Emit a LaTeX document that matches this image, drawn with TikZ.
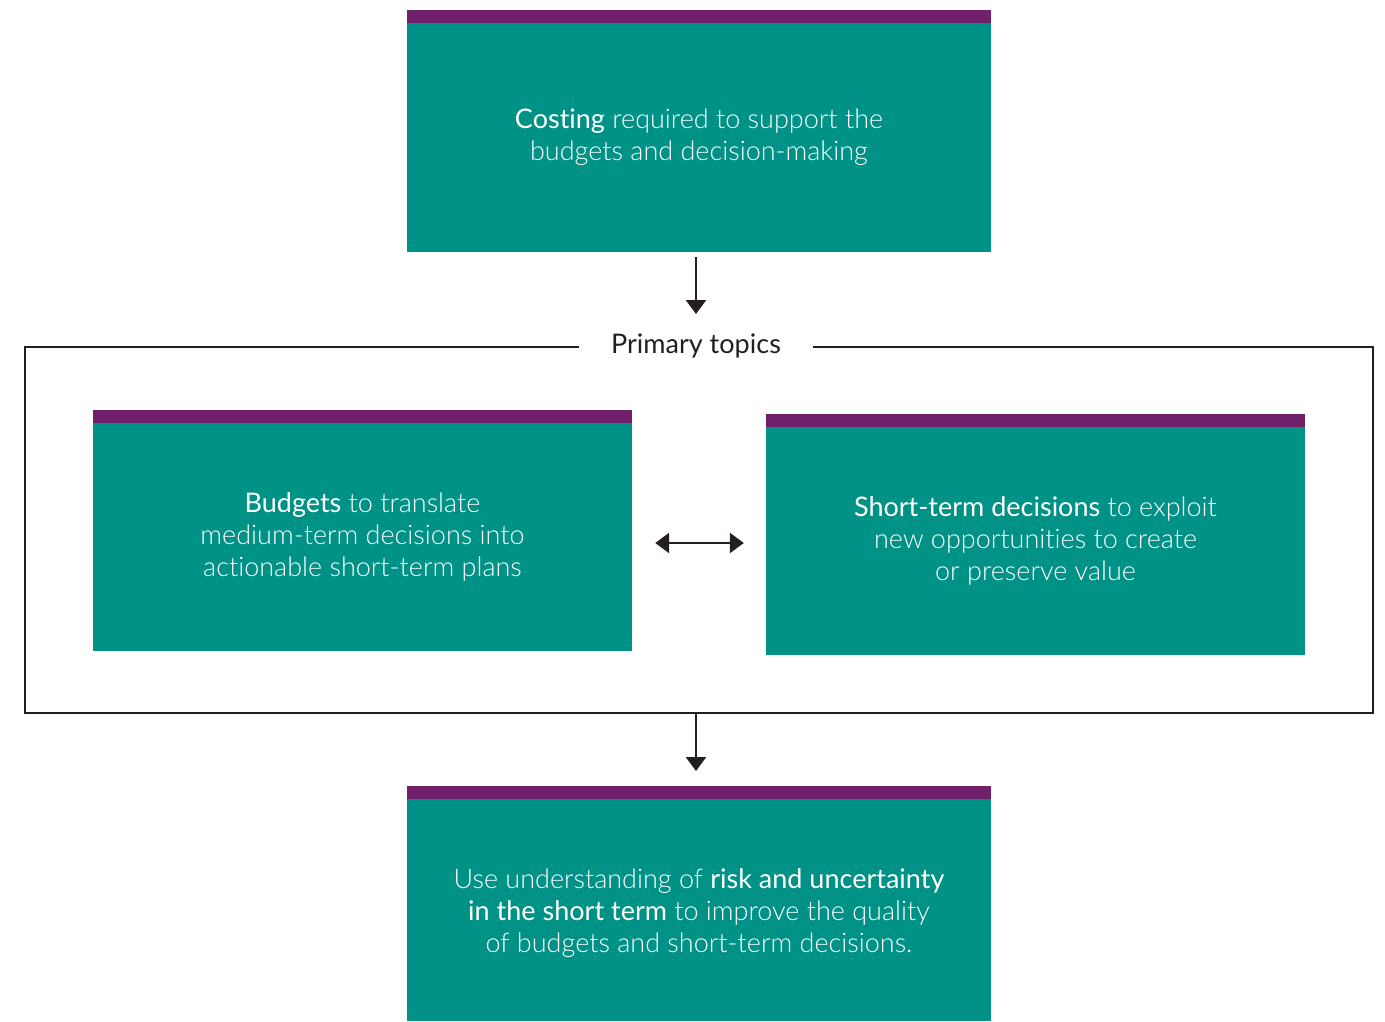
\documentclass[tikz,border=0pt]{standalone}
\usepackage{fontspec}
\setmainfont{Lato}[UprightFont=* Light, BoldFont=* Regular, Ligatures=NoCommon]
\usetikzlibrary{arrows.meta}
\definecolor{tealbox}{RGB}{0,146,134}
\definecolor{purplebar}{RGB}{112,32,106}
\definecolor{linegray}{RGB}{35,31,32}
\tikzset{
  boxbody/.style={fill=tealbox, draw=none, text=white, align=center, font=\fontsize{27}{32}\selectfont, inner sep=0pt},
  topbar/.style={fill=purplebar, draw=none, inner sep=0pt, minimum height=13pt},
  conn/.style={draw=linegray, line width=2.4pt, -{Triangle[width=20pt,length=14pt]}},
  dconn/.style={draw=linegray, line width=2.4pt, {Triangle[width=20pt,length=14pt]}-{Triangle[width=20pt,length=14pt]}},
  framel/.style={draw=linegray, line width=2.5pt},
}
\begin{document}
\begin{tikzpicture}[x=1pt,y=-1pt]
\useasboundingbox (0,0) rectangle (1385,1021);
% top box
\node[boxbody, minimum width=584pt, minimum height=229pt] (top) at (699,137.5) {\textbf{Costing} required to support the\\budgets and decision-making};
\node[topbar, minimum width=584pt, anchor=south] (topbar) at (top.north) {};
% frame
\node[font=\fontsize{27}{30}\selectfont, text=linegray, inner sep=0pt] (lbl) at (696,346) {\fontspec{Lato}[Ligatures=NoCommon]Primary topics};
\coordinate (fl) at (579,347);
\coordinate (fr) at (813,347);
\coordinate (ftl) at (25,347);
\coordinate (fbl) at (25,713);
\coordinate (fbr) at (1373,713);
\coordinate (ftr) at (1373,347);
\coordinate (fb) at (696,713);
\draw[framel] (fl) -- (ftl) -- (fbl) -- (fbr) -- (ftr) -- (fr);
% left box
\node[boxbody, minimum width=539pt, minimum height=228pt] (left) at (362.5,537) {\textbf{Budgets} to translate\\medium-term decisions into\\actionable short-term plans};
\node[topbar, minimum width=539pt, anchor=south] (leftbar) at (left.north) {};
% right box
\node[boxbody, minimum width=539pt, minimum height=228pt] (right) at (1035.5,541) {\textbf{Short-term decisions} to exploit\\new opportunities to create\\or preserve value};
\node[topbar, minimum width=539pt, anchor=south] (rightbar) at (right.north) {};
% bottom box
\node[boxbody, minimum width=584pt, minimum height=222pt] (bot) at (699,910) {};
\node[topbar, minimum width=584pt, anchor=south] (botbar) at (bot.north) {};
\node[boxbody, fill=none] (bottxt) at (699,913) {Use understanding of \textbf{risk and uncertainty}\\\textbf{in the short term} to improve the quality\\of budgets and short-term decisions.};
% connectors
\coordinate (a1s) at (696,257);
\coordinate (a1e) at (696,314);
\draw[conn] (a1s) -- (a1e);
\draw[dconn] ([xshift=23pt]left.east |- 0,543) -- ([xshift=-22pt]right.west |- 0,543);
\coordinate (a2e) at (696,771);
\draw[conn] (fb) -- (a2e);
\end{tikzpicture}
\end{document}
